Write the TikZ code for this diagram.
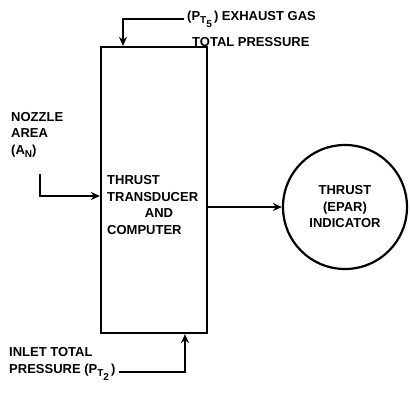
\documentclass[tikz,border=0pt]{standalone}
\usepackage{fontspec}
\setmainfont{Liberation Sans}
\usetikzlibrary{positioning, arrows.meta}
\newcommand{\lowsub}[1]{\raisebox{-3.5pt}{\fontsize{10}{10}\selectfont #1}}
\tikzset{
  lbl/.style={font=\bfseries\fontsize{13}{16.5}\selectfont, align=left, inner sep=0pt},
  blockbox/.style={draw, line width=2.2pt, inner sep=0pt},
  flow/.style={-{Stealth[length=9pt,width=8pt]}, line width=2.2pt},
}

\begin{document}
\begin{tikzpicture}[x=1pt, y=-1pt]
  \useasboundingbox (0,0) rectangle (410,396);
  % main block and indicator
  \node[blockbox, minimum width=106pt, minimum height=286pt] (comp) at (154,190) {};
  \node[lbl, anchor=west] (comptxt) at (107,205)
    {THRUST\\TRANSDUCER\\\hspace*{2.9em}AND\\COMPUTER};
  \node[blockbox, circle, minimum size=124pt, lbl, align=center] (ind) at (345,207)
    {THRUST\\(EPAR)\\INDICATOR};
  \draw[flow] (comp.east |- ind.west) -- (ind.west);
  % exhaust gas pressure
  \node[lbl, anchor=west] (pt5) at (187,19) {(P\lowsub{T\lowsub{5}}\,) EXHAUST GAS};
  \node[lbl, anchor=west] (pt5b) at (192,42) {TOTAL PRESSURE};
  \draw[flow] ([xshift=-3pt]pt5.west) -| ([xshift=-31pt]comp.north);
  % nozzle area
  \node[lbl, anchor=north west] (noz) at (11,112)
    {NOZZLE\\AREA\\(A\lowsub{N})};
  \draw[flow] ([xshift=3pt, yshift=-16pt]noz.south) |- ([yshift=-6pt]comp.west);
  % inlet pressure
  \node[lbl, anchor=west] (inlet) at (9,364)
    {INLET TOTAL\\PRESSURE (P\lowsub{T\lowsub{2}}\,)};
  \draw[flow] ([xshift=3pt, yshift=-8pt]inlet.east) -| ([xshift=31pt]comp.south);
\end{tikzpicture}
\end{document}
